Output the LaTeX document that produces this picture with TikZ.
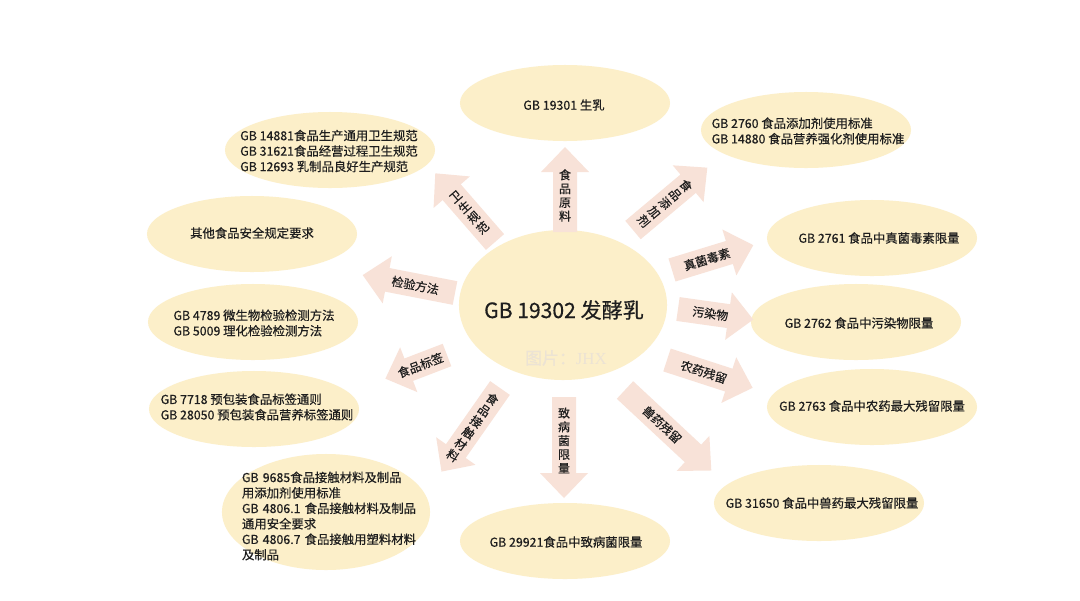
\documentclass[tikz,border=0pt]{standalone}
\usepackage{fontspec}
\setmainfont{Noto Sans CJK SC}[FakeBold=0.5]
\newfontfamily\serifw{Liberation Serif}
\usetikzlibrary{shapes.geometric}
\definecolor{ellfill}{HTML}{FCEFC9}
\definecolor{arrfill}{HTML}{F8E2D8}
\definecolor{txtcol}{HTML}{1E1E1E}
\definecolor{wmark}{HTML}{ECE3D4}
\tikzset{
  ell/.style={ellipse, fill=ellfill, draw=none, inner sep=0, minimum width=5.25cm, minimum height=1.9cm},
  etext/.style={font=\fontsize{8.8}{11}\selectfont, align=left, inner sep=0, text=txtcol},
  lbl/.style={font=\fontsize{8.5}{9.8}\selectfont, align=center, inner sep=0, text=txtcol},
}
% name, base, angle, length, text rotation, text position (fraction), text
\newcommand\blockarrow[7]{%
  \begin{scope}[shift={(#2)}, rotate=#3]
    \fill[arrfill] (0,-12) -- ({#4-25},-12) -- ({#4-25},-24) -- (#4,0) -- ({#4-25},24) -- ({#4-25},12) -- (0,12) -- cycle;
    \node[lbl, rotate=#5] (#1) at ({#6*#4},0) {#7};
  \end{scope}}
\begin{document}
\begin{tikzpicture}[x=0.025cm, y=0.025cm]
\fill[white] (0,0) rectangle (1080,-600);
\useasboundingbox (0,0) rectangle (1080,-600);

% ellipses
\node[ell, minimum width=5.2cm, minimum height=3.75cm] (center) at (563,-305) {};
\node[ell] (raw) at (565,-103) {};
\node[ell] (hyg) at (330,-150) {};
\node[ell] (other) at (252,-234) {};
\node[ell] (test) at (253,-322) {};
\node[ell] (label) at (254,-409) {};
\node[ell, minimum width=5.2cm, minimum height=2.9cm] (contact) at (326,-512) {};
\node[ell] (add) at (806,-130) {};
\node[ell] (myco) at (872,-238) {};
\node[ell] (cont) at (856,-322) {};
\node[ell] (pest) at (872,-407) {};
\node[ell] (vet) at (819,-503) {};
\node[ell] (path) at (565,-541) {};

% ellipse texts
\node[font=\fontsize{15}{18}\selectfont, text=txtcol, inner sep=0] (ctext) at (564,-310) {GB 19302 发酵乳};
\node[text=wmark, font=\fontsize{12}{14}\selectfont, inner sep=0] (wm) at (566,-358) {图片：{\serifw JHX}};
\node[etext] (traw) at (564,-105) {GB 19301 生乳};
\node[etext] (thyg) at (329,-151) {GB 14881食品生产通用卫生规范\\GB 31621食品经营过程卫生规范\\GB 12693 乳制品良好生产规范};
\node[etext] (tother) at (252,-233) {其他食品安全规定要求};
\node[etext] (ttest) at (254,-323) {GB 4789 微生物检验检测方法\\GB 5009 理化检验检测方法};
\node[etext] (tlabel) at (257,-407) {GB 7718 预包装食品标签通则\\GB 28050 预包装食品营养标签通则};
\node[etext, text width=4.6cm] (tcontact) at (334,-516) {GB 9685食品接触材料及制品\\用添加剂使用标准\\GB 4806.1 食品接触材料及制品\\通用安全要求\\GB 4806.7 食品接触用塑料材料\\及制品};
\node[etext] (tadd) at (808,-131) {GB 2760 食品添加剂使用标准\\GB 14880 食品营养强化剂使用标准};
\node[etext] (tmyco) at (879,-238) {GB 2761 食品中真菌毒素限量};
\node[etext] (tcont) at (859,-323) {GB 2762 食品中污染物限量};
\node[etext] (tpest) at (872,-406) {GB 2763 食品中农药最大残留限量};
\node[etext] (tvet) at (822,-503) {GB 31650 食品中兽药最大残留限量};
\node[etext] (tpath) at (566,-542) {GB 29921食品中致病菌限量};

% block arrows
\blockarrow{a1}{565,-232}{90}{85}{0}{0.43}{食\\品\\原\\料}
\blockarrow{a2}{495,-242}{131}{91}{41}{0.43}{卫\\生\\规\\范}
\blockarrow{a3}{455,-293}{169}{94}{-11}{0.43}{检验方法}
\blockarrow{a4}{447,-355}{201}{66}{21}{0.43}{食品标签}
\blockarrow{a5}{500,-388}{235}{102}{-35}{0.47}{食\\品\\接\\触\\材\\料}
\blockarrow{a6}{564,-397}{-90}{101}{0}{0.43}{致\\病\\菌\\限\\量}
\blockarrow{a7}{625,-390}{-43}{118}{-43}{0.43}{兽药残留}
\blockarrow{a8}{667,-360}{-18}{90}{-18}{0.43}{农药残留}
\blockarrow{a9}{678,-309}{-8}{76}{-8}{0.43}{污染物}
\blockarrow{a10}{672,-270}{17}{85}{17}{0.43}{真菌毒素}
\blockarrow{a11}{633,-230}{40}{97}{-50}{0.43}{食\\品\\添\\加\\剂}
\end{tikzpicture}
\end{document}
